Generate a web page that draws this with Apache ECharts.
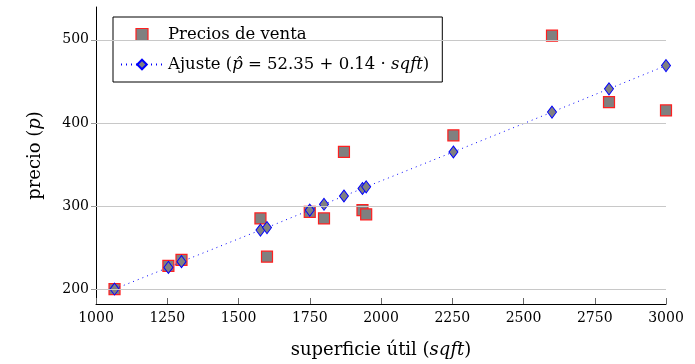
<!DOCTYPE html>
<html><head><meta charset="utf-8">
<script src="https://cdn.jsdelivr.net/npm/echarts@6/dist/echarts.min.js"></script>
<style>html,body{margin:0;padding:0;background:#fff}#c{width:695px;height:364px}</style>
</head><body><div id="c"></div>
<script>
const sqft = [1065,1254,1300,1577,1600,1750,1800,1870,1935,1948,2254,2600,2800,3000];
const price = [199.9,228,235,285,239,293,285,365,295,290,385,505,425,415];
const fitted = [200,226,233,271,274,295,302,312,321,323,365,413,441,469];
const xTicks = [1000,1250,1500,1750,2000,2250,2500,2750,3000];
const yTicks = [200,300,400,500];
const serif = '"DejaVu Serif", "Liberation Serif", serif';

const chart = echarts.init(document.getElementById('c'));
chart.setOption({
  animation: false,
  textStyle: {fontFamily: serif},
  grid: {left: 96, right: 29, top: 7, bottom: 58},
  xAxis: {
    type: 'value', min: 1000, max: 3000, interval: 250,
    name: 'superficie útil ({i|sqft})', nameLocation: 'middle', nameGap: 37,
    nameTextStyle: {fontFamily: serif, fontSize: 18, color: '#000',
      rich: {i: {fontFamily: serif, fontStyle: 'italic', fontSize: 18, color: '#000'}}},
    axisLine: {show: true, lineStyle: {color: '#000', width: 1}},
    axisTick: {show: true, inside: true, length: 6, lineStyle: {color: '#666'}},
    axisLabel: {color: '#000', fontSize: 14, margin: 7, fontFamily: serif,
      formatter: v => xTicks.includes(v) ? String(v) : ''},
    splitLine: {show: false}
  },
  yAxis: {
    type: 'value', min: 182, max: 539.5,
    name: 'precio ({i|p})', nameLocation: 'middle', nameGap: 52, nameRotate: 90,
    nameTextStyle: {fontFamily: serif, fontSize: 18, color: '#000',
      rich: {i: {fontFamily: serif, fontStyle: 'italic', fontSize: 18, color: '#000'}}},
    axisLine: {show: true, lineStyle: {color: '#000', width: 1}},
    axisTick: {show: true, length: 5, customValues: yTicks, lineStyle: {color: '#999'}},
    axisLabel: {color: '#000', fontSize: 14, margin: 7, fontFamily: serif,
      customValues: yTicks},
    splitLine: {show: false}
  },
  legend: {
    orient: 'vertical', left: 113, top: 17,
    padding: [9, 13, 9, 7], itemGap: 13, itemWidth: 42, itemHeight: 12,
    backgroundColor: '#fff', borderColor: '#000', borderWidth: 1, borderRadius: 0,
    textStyle: {fontFamily: serif, fontSize: 16.5, color: '#000',
      rich: {i: {fontFamily: serif, fontStyle: 'italic', fontSize: 16.5, color: '#000'}}},
    data: [
      {name: 'Precios de venta', icon: 'path://M0,0L10,0L10,10L0,10Z',
       itemStyle: {borderWidth: 1.2}},
      {name: 'Ajuste'}
    ],
    formatter: n => n === 'Ajuste' ? 'Ajuste ({i|p̂} = 52.35 + 0.14 · {i|sqft})' : n
  },
  series: [
    {
      type: 'line', name: 'grid', silent: true, symbol: 'none',
      data: [],
      markLine: {silent: true, symbol: 'none', label: {show: false},
        lineStyle: {color: '#c8c8c8', type: 'solid', width: 1},
        data: yTicks.map(v => ({yAxis: v}))}
    },
    {
      type: 'scatter', name: 'Precios de venta', z: 3,
      symbol: 'rect', symbolSize: 11,
      itemStyle: {color: '#808080', borderColor: '#ff2020', borderWidth: 1.2, opacity: 1},
      data: sqft.map((x, i) => [x, price[i]])
    },
    {
      type: 'line', name: 'Ajuste', z: 4,
      symbol: 'diamond', symbolSize: [9, 12], showAllSymbol: true,
      lineStyle: {color: '#0000ff', width: 1, type: [1, 4]},
      itemStyle: {color: '#808080', borderColor: '#0000ff', borderWidth: 1},
      data: sqft.map((x, i) => [x, fitted[i]])
    }
  ]
});
</script></body></html>
